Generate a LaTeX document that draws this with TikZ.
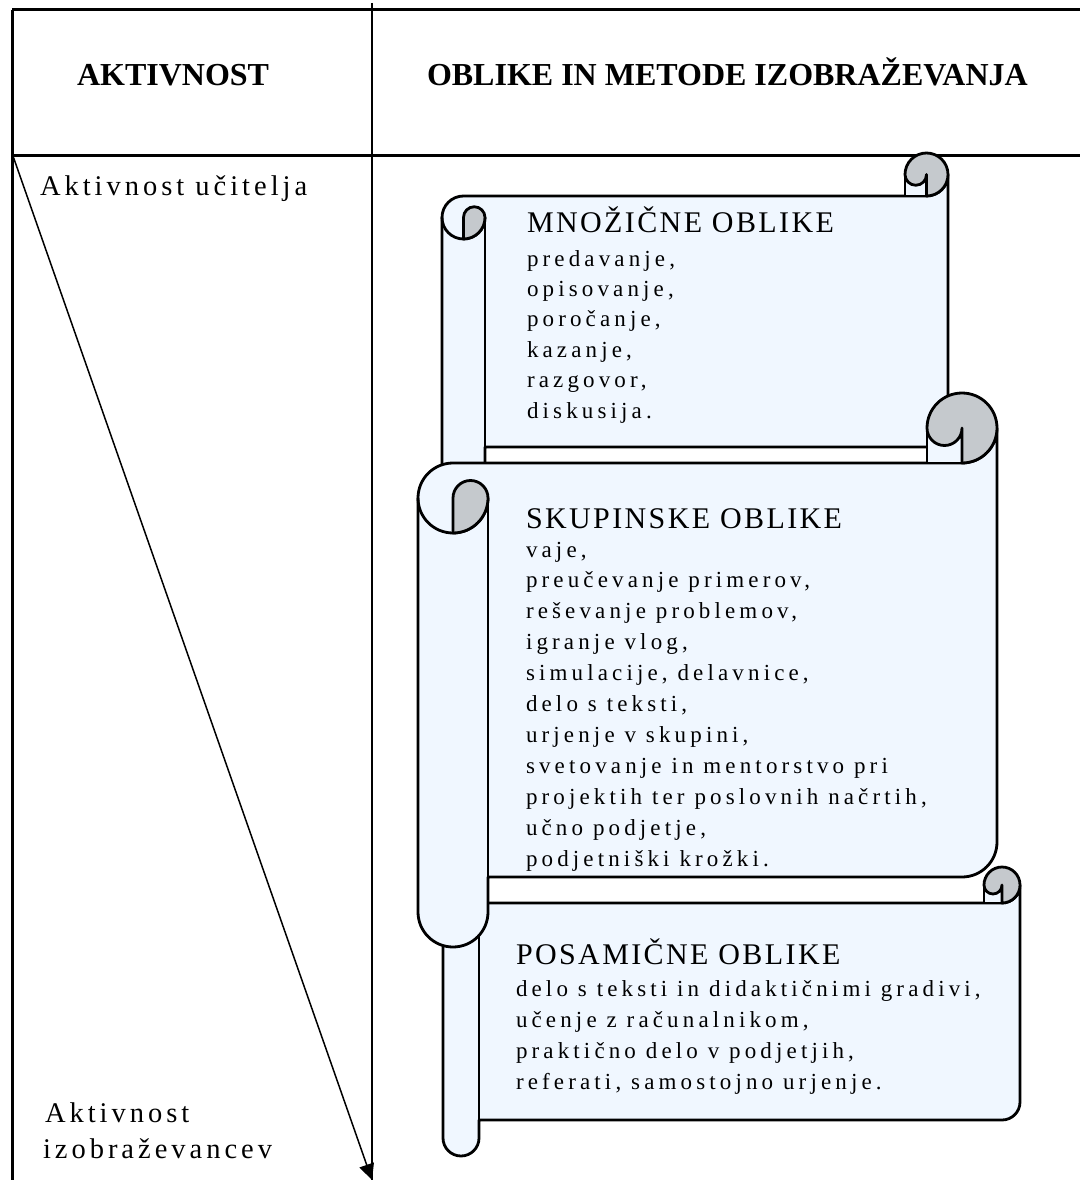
\documentclass[tikz,border=0pt]{standalone}
\usepackage{fontspec}
\setmainfont{Liberation Serif}
\newfontfamily\lblfont[LetterSpace=14]{Liberation Serif}
\newfontfamily\headfont[LetterSpace=8]{Liberation Serif}
\newfontfamily\bodyfont[LetterSpace=18]{Liberation Serif}
\usetikzlibrary{arrows.meta}
\definecolor{paperfill}{RGB}{240,247,255}
\definecolor{curlfill}{RGB}{197,201,205}
\tikzset{
  scrollline/.style={draw=black,line width=2.8pt,line join=round,line cap=round},
  tblline/.style={line width=3pt},
  thinline/.style={line width=1.5pt},
  txt/.style={anchor=base west,inner sep=0pt,outer sep=0pt}
}
\newcommand\wscroll[5]{%
  \pgfmathsetmacro\Sl{#1}\pgfmathsetmacro\St{#2}\pgfmathsetmacro\Sr{#3}%
  \pgfmathsetmacro\Sb{#4}\pgfmathsetmacro\Sc{#5}%
  \pgfmathsetmacro\Sh{\Sc/2}\pgfmathsetmacro\Sq{\Sc/4}%
  \path[scrollline,fill=paperfill] (\Sl+\Sh,\St+\Sc) -- (\Sr-\Sh,\St+\Sc)
     arc[start angle=90,end angle=0,radius=\Sh] -- (\Sr,\Sb-\Sc-\Sh)
     arc[start angle=0,end angle=90,radius=\Sh] -- (\Sl+\Sc,\Sb-\Sc)
     -- (\Sl+\Sc,\Sb-\Sh) arc[start angle=0,end angle=180,radius=\Sh]
     -- (\Sl,\St+\Sc+\Sh) arc[start angle=180,end angle=270,radius=\Sh] -- cycle;
  \draw[scrollline] (\Sl+\Sc,\St+\Sc+\Sh) -- (\Sl+\Sc,\Sb-\Sc);
  \draw[scrollline] (\Sl,\St+\Sc+\Sh) arc[start angle=180,end angle=0,radius=\Sh];
  \path[scrollline,fill=curlfill] (\Sl+\Sh,\St+\Sc+\Sh) arc[start angle=180,end angle=360,radius=\Sq]
     arc[start angle=0,end angle=90,radius=\Sh] -- cycle;
  \fill[paperfill] (\Sr-\Sc,\St+\Sh) rectangle (\Sr-\Sh,\St+\Sc);
  \path[scrollline,fill=curlfill] (\Sr-\Sc,\St+\Sh) arc[start angle=180,end angle=450,radius=\Sh]
     -- (\Sr-\Sh,\St+\Sh) arc[start angle=0,end angle=180,radius=\Sq] -- cycle;
  \draw[scrollline] (\Sr-\Sc,\St+\Sh) -- (\Sr-\Sc,\St+\Sc) -- (\Sr-\Sh,\St+\Sc);
}
\begin{document}
\begin{tikzpicture}[x=1pt,y=-1pt]
\useasboundingbox (0,0) rectangle (1080,1180);
\fill[white] (0,0) rectangle (1080,1180);
% table
\draw[tblline] (12,10) -- (1080,10);
\draw[tblline] (12,10) -- (12,1180);
\draw[tblline] (12,155) -- (1080,155);
\draw[thinline] (372,3) -- (372,1180);
% header
\node[txt] (h1) at (77,86) {\bfseries\fontsize{32}{34}\selectfont AKTIVNOST};
\node[txt] (h2) at (427,86) {\bfseries\fontsize{32}{34}\selectfont OBLIKE IN METODE IZOBRAŽEVANJA};
% left labels
\node[txt] (lt) at (40,195) {\lblfont\fontsize{28.5}{36}\selectfont Aktivnost učitelja};
\node[txt] (lb) at (43,1122) {\vtop{\lblfont\fontsize{28.5}{36}\selectfont\hbox{\kern2pt Aktivnost}\hbox{izobraževancev}}};
\coordinate (astart) at (13,156);
\coordinate (aend) at (372,1180);
\draw[thinline,-{Triangle[length=16pt,width=15pt]}] (astart) -- (aend);
% scrolls
\wscroll{442}{153}{948}{490}{43}
\wscroll{443}{867}{1020}{1156}{36}
\wscroll{418}{393}{997}{947}{70}
% scroll texts
\node[txt] (s1) at (527,232) {\vtop{\bodyfont\fontsize{23}{30.4}\selectfont
  \hbox{\headfont\fontsize{30}{29}\selectfont MNOŽIČNE OBLIKE}\kern3.6pt
  \hbox{predavanje,}\hbox{opisovanje,}\hbox{poročanje,}\hbox{kazanje,}\hbox{razgovor,}\hbox{diskusija.}}};
\node[txt] (s2) at (526,528) {\vtop{\bodyfont\fontsize{23}{30.9}\selectfont
  \hbox{\headfont\fontsize{30}{29}\selectfont SKUPINSKE OBLIKE}\kern-1.9pt
  \hbox{vaje,}\hbox{preučevanje primerov,}\hbox{reševanje problemov,}\hbox{igranje vlog,}
  \hbox{simulacije, delavnice,}\hbox{delo s teksti,}\hbox{urjenje v skupini,}
  \hbox{svetovanje in mentorstvo pri}\hbox{projektih ter poslovnih načrtih,}
  \hbox{učno podjetje,}\hbox{podjetniški krožki.}}};
\node[txt] (s3) at (516,964) {\vtop{\bodyfont\fontsize{23}{31}\selectfont
  \hbox{\headfont\fontsize{30}{29}\selectfont POSAMIČNE OBLIKE}\kern1pt
  \hbox{delo s teksti in didaktičnimi gradivi,}\hbox{učenje z računalnikom,}
  \hbox{praktično delo v podjetjih,}\hbox{referati, samostojno urjenje.}}};
\end{tikzpicture}
\end{document}
